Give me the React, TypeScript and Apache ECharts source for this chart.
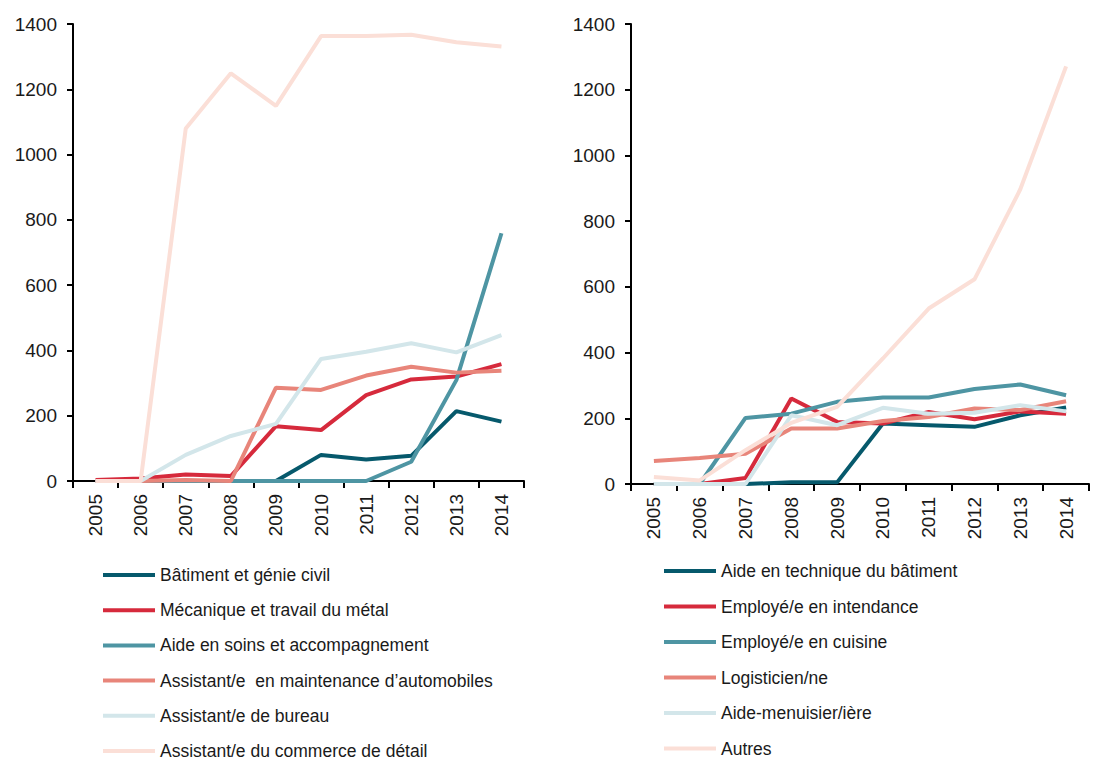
import React, { useEffect, useRef } from "react";
import * as echarts from "echarts";

const years = ["2005", "2006", "2007", "2008", "2009", "2010", "2011", "2012", "2013", "2014"];
const yTicks = { min: 0, max: 1400, interval: 200 };

const leftNames = [
  "Bâtiment et génie civil",
  "Mécanique et travail du métal",
  "Aide en soins et accompagnement",
  "Assistant/e  en maintenance d’automobiles",
  "Assistant/e de bureau",
  "Assistant/e du commerce de détail",
];
const batiment = [0, 0, 0, 0, 0, 80, 66, 77, 214, 182];
const mecanique = [3, 8, 20, 15, 168, 156, 263, 311, 320, 358];
const aideSoins = [0, 0, 0, 0, 0, 0, 0, 59, 309, 759];
const maintenanceAuto = [0, 0, 3, 0, 286, 279, 323, 350, 332, 338];
const bureau = [0, 0, 80, 138, 175, 374, 396, 422, 394, 447];
const commerce = [0, 0, 1080, 1249, 1149, 1363, 1363, 1367, 1344, 1331];

const rightNames = [
  "Aide en technique du bâtiment",
  "Employé/e en intendance",
  "Employé/e en cuisine",
  "Logisticien/ne",
  "Aide-menuisier/ière",
  "Autres",
];
const aideTechnique = [0, 0, 0, 5, 5, 184, 179, 174, 209, 233];
const intendance = [0, 0, 18, 260, 189, 184, 219, 197, 221, 214];
const cuisine = [0, 0, 201, 214, 250, 263, 263, 289, 303, 270];
const logisticien = [70, 79, 92, 169, 169, 192, 204, 230, 225, 252];
const menuisier = [0, 0, 0, 209, 179, 232, 214, 217, 240, 221];
const autres = [21, 11, 103, 186, 235, 382, 534, 623, 897, 1271];

const colors = ["#06596C", "#D62A3C", "#4E95A3", "#E8857A", "#D3E6EA", "#FBDFD7"];

const leftData = [batiment, mecanique, aideSoins, maintenanceAuto, bureau, commerce];
const rightData = [aideTechnique, intendance, cuisine, logisticien, menuisier, autres];

const FONT = "Liberation Sans, Arial, sans-serif";

export default function App() {
  const ref = useRef<HTMLDivElement>(null);
  useEffect(() => {
    document.body.style.margin = "0";
    if (!ref.current) return;
    const chart = echarts.init(ref.current, undefined, { renderer: "svg" });
    const axisLine = { show: true, lineStyle: { color: "#000", width: 2 } };
    const mkX = (gi: number) => ({
      type: "category",
      gridIndex: gi,
      data: years,
      boundaryGap: true,
      axisLine,
      axisTick: { show: true, length: 7, lineStyle: { color: "#000", width: 2 } },
      axisLabel: { rotate: 90, margin: 13, fontSize: 19, color: "#1a1a1a", fontFamily: FONT },
      splitLine: { show: false },
    });
    const mkY = (gi: number) => ({
      type: "value",
      gridIndex: gi,
      ...yTicks,
      axisLine,
      axisTick: { show: true, length: 6, lineStyle: { color: "#000", width: 2 } },
      axisLabel: {
        margin: 16,
        fontSize: 19,
        color: "#1a1a1a",
        fontFamily: FONT,
        formatter: (v: number) => String(v),
      },
      splitLine: { show: false },
    });
    const mkSeries = (names: string[], data: number[][], gi: number) =>
      names.map((n, i) => ({
        name: n,
        type: "line",
        xAxisIndex: gi,
        yAxisIndex: gi,
        data: data[i],
        symbol: "none",
        color: colors[i],
        lineStyle: { width: 4, color: colors[i] },
        z: 2 + i,
      }));
    const mkLegend = (names: string[], left: number, top: number, gap: number) => ({
      type: "plain",
      data: names,
      orient: "vertical",
      left,
      top,
      width: 440,
      height: 260,
      padding: 0,
      icon: "rect",
      itemWidth: 52,
      itemHeight: 4,
      itemGap: gap,
      textStyle: { fontSize: 17.5, lineHeight: 20, color: "#1a1a1a", fontFamily: FONT },
    });
    chart.setOption({
      animation: false,
      backgroundColor: "#fff",
      textStyle: { fontFamily: FONT },
      grid: [
        { left: 73, top: 24, width: 451, height: 457 },
        { left: 631, top: 24, width: 458, height: 460 },
      ],
      xAxis: [mkX(0), mkX(1)],
      yAxis: [mkY(0), mkY(1)],
      legend: [mkLegend(leftNames, 103, 565, 15.2), mkLegend(rightNames, 664, 561, 15.5)],
      series: [...mkSeries(leftNames, leftData, 0), ...mkSeries(rightNames, rightData, 1)],
    });
    return () => chart.dispose();
  }, []);
  return <div ref={ref} style={{ width: 1101, height: 763 }} />;
}
